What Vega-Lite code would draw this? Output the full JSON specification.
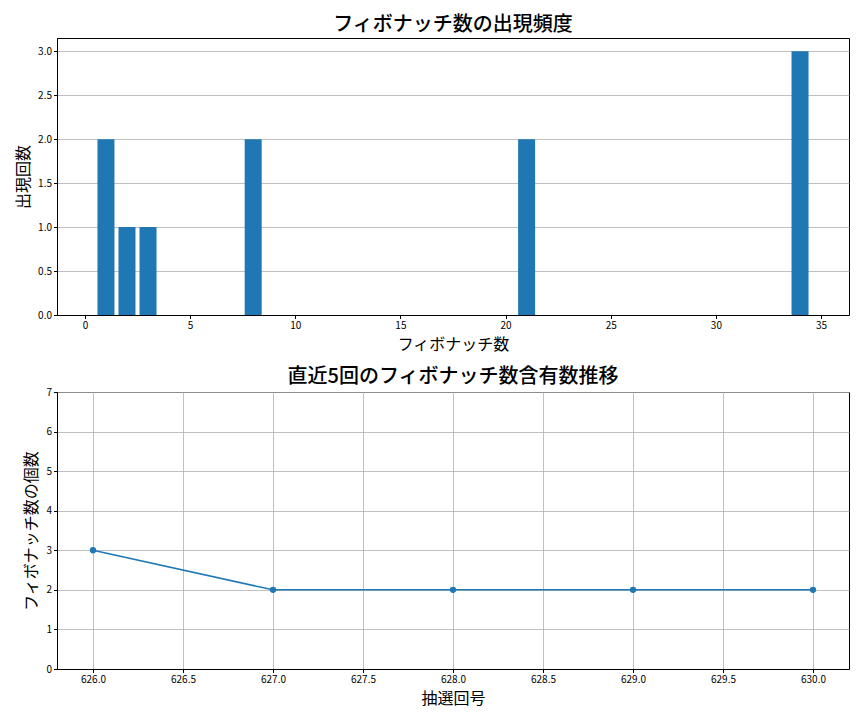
{
  "$schema": "https://vega.github.io/schema/vega-lite/v6.json",
  "padding": {"left": 15, "top": 14, "right": 10, "bottom": 5},
  "background": "white",
  "spacing": 13,
  "config": {
    "font": "Noto Sans CJK JP",
    "view": {"stroke": "black", "strokeWidth": 1},
    "title": {"fontSize": 20, "fontWeight": 500, "color": "black"},
    "axis": {
      "labelFont": "Noto Sans CJK JP",
      "labelFontSize": 10,
      "labelColor": "black",
      "titleFont": "Noto Sans CJK JP",
      "titleFontSize": 16,
      "titleFontWeight": "normal",
      "titleColor": "black",
      "domainColor": "black",
      "tickColor": "black",
      "tickSize": 3.5,
      "labelPadding": 2,
      "gridColor": "#b0b0b0",
      "gridWidth": 0.8,
      "labelFlush": false,
      "labelOverlap": false
    }
  },
  "vconcat": [
    {
      "title": {"text": "フィボナッチ数の出現頻度", "offset": 3},
      "width": 792,
      "height": 277,
      "data": {
        "values": [
          {"fib": 1, "count": 2},
          {"fib": 2, "count": 1},
          {"fib": 3, "count": 1},
          {"fib": 8, "count": 2},
          {"fib": 21, "count": 2},
          {"fib": 34, "count": 3}
        ]
      },
      "mark": {"type": "bar", "size": 17, "color": "#1f77b4"},
      "encoding": {
        "x": {
          "field": "fib",
          "type": "quantitative",
          "scale": {"domain": [-1.09, 36.09], "nice": false, "zero": false},
          "axis": {"values": [0, 5, 10, 15, 20, 25, 30, 35], "grid": false, "title": "フィボナッチ数", "titlePadding": 6}
        },
        "y": {
          "field": "count",
          "type": "quantitative",
          "scale": {"domain": [0, 3.15], "nice": false},
          "axis": {"values": [0, 0.5, 1, 1.5, 2, 2.5, 3], "format": ".1f", "grid": true, "title": "出現回数", "titlePadding": 6}
        }
      }
    },
    {
      "title": {"text": "直近5回のフィボナッチ数含有数推移", "offset": 0},
      "width": 792,
      "height": 277,
      "data": {
        "values": [
          {"draw": 626, "n": 3},
          {"draw": 627, "n": 2},
          {"draw": 628, "n": 2},
          {"draw": 629, "n": 2},
          {"draw": 630, "n": 2}
        ]
      },
      "mark": {"type": "line", "color": "#1f77b4", "strokeWidth": 1.5, "point": {"filled": true, "size": 40, "color": "#1f77b4"}},
      "encoding": {
        "x": {
          "field": "draw",
          "type": "quantitative",
          "scale": {"domain": [625.8, 630.2], "nice": false, "zero": false},
          "axis": {"values": [626, 626.5, 627, 627.5, 628, 628.5, 629, 629.5, 630], "format": ".1f", "grid": true, "title": "抽選回号", "titlePadding": 6}
        },
        "y": {
          "field": "n",
          "type": "quantitative",
          "scale": {"domain": [0, 7], "nice": false},
          "axis": {"values": [0, 1, 2, 3, 4, 5, 6, 7], "format": "d", "grid": true, "title": "フィボナッチ数の個数", "titlePadding": 6}
        }
      }
    }
  ]
}
